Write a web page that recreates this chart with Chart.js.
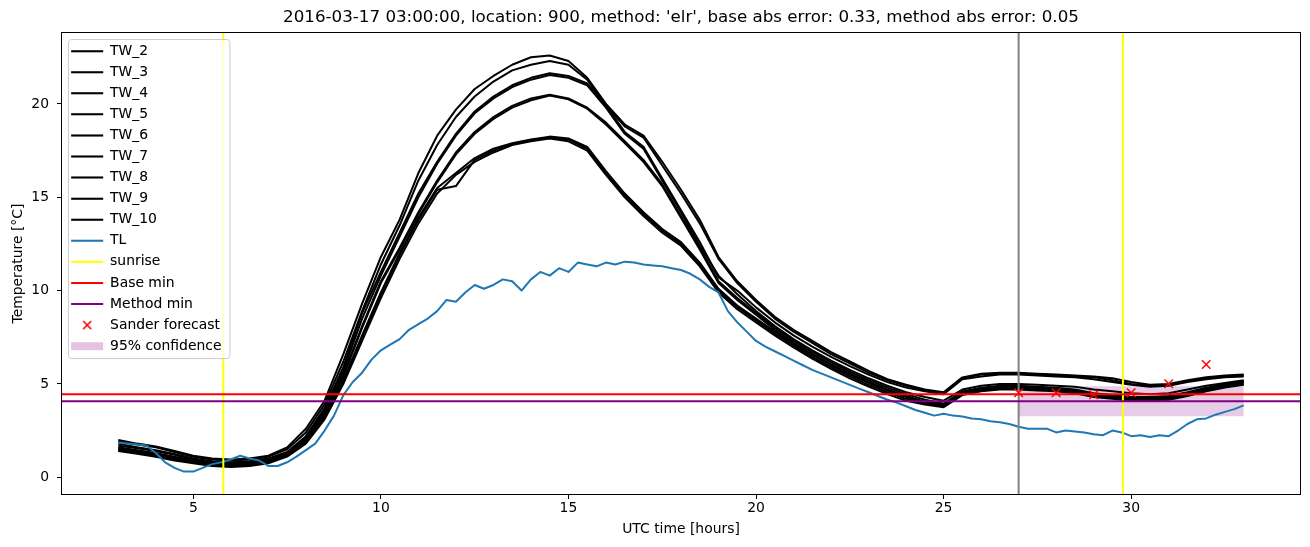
<!DOCTYPE html>
<html>
<head>
<meta charset="utf-8">
<script src="https://cdn.jsdelivr.net/npm/chart.js@4.4.1/dist/chart.umd.min.js"></script>
<style>
  body { margin: 0; background: #fff; }
  .c-chart { width: 1310px; height: 547px; }
</style>
</head>
<body>
<div class="c-chart"><canvas id="myChart"></canvas></div>
<script>
// half-hourly wall temperatures (TW_*), UTC hours from 03:00 to 33:00
const hours = [3.0, 3.5, 4.0, 4.5, 5.0, 5.5, 6.0, 6.5, 7.0, 7.5, 8.0, 8.5, 9.0, 9.5, 10.0, 10.5,
  11.0, 11.5, 12.0, 12.5, 13.0, 13.5, 14.0, 14.5, 15.0, 15.5, 16.0, 16.5, 17.0, 17.5, 18.0, 18.5,
  19.0, 19.5, 20.0, 20.5, 21.0, 21.5, 22.0, 22.5, 23.0, 23.5, 24.0, 24.5, 25.0, 25.5, 26.0, 26.5,
  27.0, 27.5, 28.0, 28.5, 29.0, 29.5, 30.0, 30.5, 31.0, 31.5, 32.0, 32.5, 33.0];

const tw2 = [2.0, 1.8, 1.65, 1.4, 1.15, 1.0, 0.95, 1.0, 1.15, 1.6, 2.6,
  4.1, 6.6, 9.3, 11.8, 13.8, 16.3, 18.3, 19.7, 20.8, 21.5,
  22.1, 22.5, 22.6, 22.3, 21.4, 20.0, 18.9, 18.3, 16.9, 15.4,
  13.8, 11.8, 10.5, 9.5, 8.6, 7.9, 7.3, 6.7, 6.2, 5.7,
  5.25, 4.95, 4.7, 4.55, 5.35, 5.55, 5.6, 5.6, 5.55, 5.5,
  5.45, 5.4, 5.3, 5.1, 4.95, 5.0, 5.2, 5.35, 5.45, 5.5];
const tw3 = [1.9, 1.75, 1.6, 1.35, 1.1, 0.95, 0.9, 0.95, 1.1, 1.5, 2.4,
  3.9, 6.2, 8.9, 11.4, 13.5, 15.9, 17.8, 19.3, 20.4, 21.2,
  21.8, 22.1, 22.3, 22.1, 21.3, 19.9, 18.8, 18.2, 16.7, 15.2,
  13.6, 11.7, 10.4, 9.4, 8.5, 7.8, 7.2, 6.6, 6.1, 5.6,
  5.2, 4.9, 4.65, 4.5, 5.3, 5.5, 5.55, 5.55, 5.5, 5.45,
  5.4, 5.35, 5.2, 5.0, 4.9, 4.95, 5.15, 5.3, 5.4, 5.45];
const tw4 = [1.8, 1.6, 1.45, 1.25, 1.0, 0.85, 0.8, 0.85, 1.0, 1.35, 2.2,
  3.7, 5.9, 8.8, 11.0, 13.1, 15.2, 16.9, 18.4, 19.6, 20.4,
  21.0, 21.4, 21.65, 21.5, 21.1, 19.9, 18.5, 17.7, 16.0, 14.3,
  12.6, 10.7, 10.0, 9.1, 8.3, 7.6, 7.0, 6.45, 5.95, 5.5,
  5.1, 4.8, 4.6, 4.45, 5.25, 5.4, 5.5, 5.5, 5.45, 5.4,
  5.35, 5.25, 5.1, 4.95, 4.85, 4.9, 5.1, 5.25, 5.35, 5.4];
const tw5 = [1.7, 1.55, 1.4, 1.2, 0.95, 0.8, 0.75, 0.8, 0.95, 1.3, 2.1,
  3.6, 5.7, 8.5, 10.8, 12.9, 15.0, 16.8, 18.3, 19.5, 20.3,
  20.9, 21.3, 21.55, 21.4, 21.0, 19.8, 18.4, 17.6, 15.9, 14.2,
  12.4, 10.8, 9.8, 8.9, 8.1, 7.4, 6.8, 6.25, 5.75, 5.3,
  4.9, 4.55, 4.3, 4.1, 4.7, 4.9, 5.0, 5.0, 4.95, 4.9,
  4.85, 4.7, 4.6, 4.5, 4.45, 4.5, 4.7, 4.9, 5.05, 5.2];
const tw6 = [1.6, 1.45, 1.3, 1.1, 0.9, 0.75, 0.7, 0.75, 0.9, 1.25, 2.0,
  3.5, 5.5, 8.1, 10.5, 12.3, 14.2, 15.9, 17.4, 18.5, 19.3,
  19.9, 20.3, 20.5, 20.3, 19.8, 19.0, 18.0, 17.0, 15.7, 14.0,
  12.3, 10.5, 9.6, 8.8, 8.0, 7.3, 6.7, 6.15, 5.65, 5.2,
  4.8, 4.45, 4.15, 3.95, 4.6, 4.8, 4.9, 4.9, 4.85, 4.8,
  4.7, 4.5, 4.4, 4.3, 4.3, 4.35, 4.55, 4.8, 5.0, 5.15];
const tw7 = [1.55, 1.4, 1.25, 1.05, 0.85, 0.7, 0.65, 0.7, 0.85, 1.2, 1.9,
  3.4, 5.4, 8.0, 10.4, 12.2, 14.1, 15.8, 17.3, 18.4, 19.2,
  19.8, 20.2, 20.45, 20.25, 19.75, 18.9, 17.9, 16.9, 15.6, 13.9,
  12.2, 10.4, 9.5, 8.7, 7.9, 7.2, 6.6, 6.05, 5.55, 5.1,
  4.7, 4.35, 4.05, 3.9, 4.55, 4.75, 4.85, 4.85, 4.8, 4.75,
  4.65, 4.45, 4.35, 4.25, 4.25, 4.3, 4.5, 4.75, 4.95, 5.1];
const tw8 = [1.5, 1.35, 1.2, 1.0, 0.85, 0.7, 0.65, 0.7, 0.85, 1.2, 1.9,
  3.3, 5.2, 7.6, 9.9, 12.0, 13.9, 15.5, 16.3, 17.1, 17.6,
  17.9, 18.1, 18.25, 18.15, 17.7, 16.4, 15.2, 14.2, 13.3, 12.6,
  11.5, 10.1, 9.2, 8.5, 7.8, 7.15, 6.55, 6.0, 5.5, 5.05,
  4.65, 4.3, 4.0, 3.85, 4.5, 4.7, 4.8, 4.8, 4.75, 4.7,
  4.6, 4.4, 4.3, 4.2, 4.2, 4.25, 4.45, 4.7, 4.9, 5.05];
const tw9 = [1.45, 1.3, 1.15, 0.95, 0.8, 0.65, 0.6, 0.65, 0.8, 1.15, 1.85,
  3.2, 5.1, 7.5, 9.8, 11.9, 13.8, 15.4, 15.6, 17.0, 17.5,
  17.85, 18.05, 18.2, 18.1, 17.6, 16.3, 15.1, 14.1, 13.2, 12.5,
  11.4, 10.0, 9.1, 8.4, 7.7, 7.05, 6.45, 5.9, 5.4, 4.95,
  4.55, 4.2, 3.95, 3.8, 4.45, 4.65, 4.75, 4.75, 4.7, 4.65,
  4.55, 4.35, 4.25, 4.15, 4.15, 4.2, 4.4, 4.65, 4.85, 5.0];
const tw10 = [1.4, 1.25, 1.1, 0.9, 0.75, 0.6, 0.55, 0.6, 0.75, 1.1, 1.8,
  3.1, 5.0, 7.3, 9.6, 11.7, 13.6, 15.2, 16.2, 16.9, 17.4,
  17.8, 18.0, 18.15, 18.0, 17.5, 16.2, 15.0, 14.0, 13.1, 12.4,
  11.3, 9.9, 9.0, 8.3, 7.6, 6.95, 6.35, 5.8, 5.3, 4.85,
  4.45, 4.1, 3.9, 3.75, 4.4, 4.6, 4.7, 4.7, 4.65, 4.6,
  4.5, 4.3, 4.2, 4.1, 4.1, 4.15, 4.35, 4.6, 4.8, 4.95];

// air temperature (TL), quarter-hourly
const tlHours = [3.0, 3.25, 3.5, 3.75, 4.0, 4.25, 4.5, 4.75, 5.0, 5.25, 5.5, 5.75, 6.0, 6.25, 6.5, 6.75,
  7.0, 7.25, 7.5, 7.75, 8.0, 8.25, 8.5, 8.75, 9.0, 9.25, 9.5, 9.75, 10.0, 10.25, 10.5, 10.75,
  11.0, 11.25, 11.5, 11.75, 12.0, 12.25, 12.5, 12.75, 13.0, 13.25, 13.5, 13.75, 14.0, 14.25, 14.5, 14.75,
  15.0, 15.25, 15.5, 15.75, 16.0, 16.25, 16.5, 16.75, 17.0, 17.25, 17.5, 17.75, 18.0, 18.25, 18.5, 18.75,
  19.0, 19.25, 19.5, 19.75, 20.0, 20.25, 20.5, 20.75, 21.0, 21.25, 21.5, 21.75, 22.0, 22.25, 22.5, 22.75,
  23.0, 23.25, 23.5, 23.75, 24.0, 24.25, 24.5, 24.75, 25.0, 25.25, 25.5, 25.75, 26.0, 26.25, 26.5, 26.75,
  27.0, 27.25, 27.5, 27.75, 28.0, 28.25, 28.5, 28.75, 29.0, 29.25, 29.5, 29.75, 30.0, 30.25, 30.5, 30.75,
  31.0, 31.25, 31.5, 31.75, 32.0, 32.25, 32.5, 32.75, 33.0];
const tl = [1.85, 1.8, 1.75, 1.7, 1.3, 0.8, 0.5, 0.3, 0.3, 0.5,
  0.7, 0.8, 0.95, 1.15, 1.0, 0.9, 0.6, 0.6, 0.8, 1.1,
  1.45, 1.8, 2.5, 3.3, 4.4, 5.1, 5.6, 6.3, 6.8, 7.1,
  7.4, 7.9, 8.2, 8.5, 8.9, 9.5, 9.4, 9.9, 10.3, 10.1,
  10.3, 10.6, 10.5, 10.0, 10.6, 11.0, 10.8, 11.2, 11.0, 11.5,
  11.4, 11.3, 11.5, 11.4, 11.55, 11.5, 11.4, 11.35, 11.3, 11.2,
  11.1, 10.9, 10.6, 10.2, 9.9, 8.9, 8.3, 7.8, 7.3, 7.0,
  6.75, 6.5, 6.25, 6.0, 5.75, 5.55, 5.35, 5.15, 4.95, 4.75,
  4.55, 4.35, 4.15, 4.0, 3.8, 3.6, 3.45, 3.3, 3.4, 3.3,
  3.25, 3.15, 3.1, 3.0, 2.95, 2.85, 2.7, 2.6, 2.6, 2.6,
  2.4, 2.5, 2.45, 2.4, 2.3, 2.25, 2.5, 2.4, 2.2, 2.25,
  2.15, 2.25, 2.2, 2.5, 2.85, 3.1, 3.15, 3.35, 3.5, 3.65,
  3.85];

const sunriseHours = [5.8, 29.78];
const forecastStart = 27.0;
const baseMin = 4.45;
const methodMin = 4.07;
const forecastHours = [27, 28, 29, 30, 31, 32];
const forecast = [4.53, 4.53, 4.42, 4.53, 5.01, 6.04];
const confHours = [27, 33];
const confLow = 3.26;
const confHigh = 4.88;

const xTicks = [5, 10, 15, 20, 25, 30];
const yTicks = [0, 5, 10, 15, 20];

var myChart = '';

const toPoints = function (xs, ys) {
  return xs.map((x, i) => ({ x: x, y: ys[i] }));
};

const vLines = function (xs) {
  const pts = [];
  for (const x of xs) {
    pts.push({ x: x, y: -100 }, { x: x, y: 100 }, { x: x, y: null });
  }
  return pts;
};

const lineSet = function (label, data, color) {
  return {
    label: label,
    data: data,
    showLine: true,
    borderColor: color,
    backgroundColor: color,
    borderWidth: 2,
    borderJoinStyle: 'round',
    pointRadius: 0,
    pointStyle: 'line',
  };
};

// small red x for the legend entry (pointStyleWidth would stretch crossRot)
const makeCross = function () {
  const c = document.createElement('canvas');
  c.width = 10;
  c.height = 10;
  const g = c.getContext('2d');
  g.strokeStyle = '#ff0000';
  g.lineWidth = 1.5;
  g.beginPath();
  g.moveTo(1, 1);
  g.lineTo(9, 9);
  g.moveTo(9, 1);
  g.lineTo(1, 9);
  g.stroke();
  return c;
};

// spines on all four sides + matplotlib-like legend frame, legend redrawn on top
const framePlugin = {
  id: 'frame',
  afterLayout: function (chart) {
    const lg = chart.legend;
    const area = chart.chartArea;
    lg.left = area.left + 2;
    lg.top = area.top + 4;
    lg.right = lg.left + lg.width;
    lg.bottom = lg.top + lg.height;
  },
  afterDatasetsDraw: function (chart) {
    const ctx = chart.ctx;
    const area = chart.chartArea;
    const lg = chart.legend;
    ctx.save();
    ctx.strokeStyle = '#000';
    ctx.lineWidth = 1;
    ctx.strokeRect(Math.round(area.left) - 0.5, Math.round(area.top) - 0.5,
      Math.round(area.right - area.left) + 1, Math.round(area.bottom - area.top) + 1);

    const n = lg.legendItems.length;
    ctx.beginPath();
    ctx.roundRect(lg.left + 4.5, lg.top + 2.5, lg.width - 6, n * 21.07 + 3, 3);
    ctx.fillStyle = 'rgba(255, 255, 255, 0.8)';
    ctx.fill();
    ctx.strokeStyle = '#cccccc';
    ctx.stroke();
    ctx.restore();
    lg.draw();
  },
};

const init = function () {
  Chart.defaults.font.family = "'DejaVu Sans', sans-serif";
  Chart.defaults.color = '#000';
  const crossIcon = makeCross();

  const tw = [
    ['TW_2', tw2], ['TW_3', tw3], ['TW_4', tw4], ['TW_5', tw5], ['TW_6', tw6],
    ['TW_7', tw7], ['TW_8', tw8], ['TW_9', tw9], ['TW_10', tw10],
  ];
  const datasets = [];
  for (const item of tw) {
    datasets.push(lineSet(item[0], toPoints(hours, item[1]), '#000000'));
  }
  datasets.push(lineSet('TL', toPoints(tlHours, tl), '#1f77b4'));
  datasets.push(lineSet('sunrise', vLines(sunriseHours), '#ffff00'));
  datasets.push(lineSet('', vLines([forecastStart]), '#808080'));
  datasets.push(lineSet('Base min', toPoints([-100, 100], [baseMin, baseMin]), '#ff0000'));
  datasets.push(lineSet('Method min', toPoints([-100, 100], [methodMin, methodMin]), '#800080'));
  datasets.push({
    label: 'Sander forecast',
    data: toPoints(forecastHours, forecast),
    showLine: false,
    pointStyle: 'crossRot',
    pointRadius: 6,
    borderColor: '#ff0000',
    backgroundColor: '#ff0000',
    borderWidth: 1.5,
  });
  datasets.push({
    label: '95% confidence',
    data: toPoints(confHours, [confHigh, confHigh]),
    showLine: true,
    borderWidth: 0,
    borderColor: 'rgba(0, 0, 0, 0)',
    backgroundColor: 'rgba(128, 0, 128, 0.2)',
    fill: { value: confLow },
    pointRadius: 0,
    pointStyle: 'rect',
  });
  // later datasets on top, like the plotting order
  datasets.forEach((ds, i) => { ds.order = datasets.length - i; });
  datasets[datasets.length - 1].order = datasets.length;

  const ctx = document.getElementById('myChart').getContext('2d');
  myChart = new Chart(ctx, {
    type: 'scatter',
    data: { datasets: datasets },
    options: {
      responsive: true,
      maintainAspectRatio: false,
      animation: false,
      layout: { padding: { left: 0, right: 10, top: 0, bottom: 0 } },
      scales: {
        x: {
          type: 'linear',
          min: 1.5,
          max: 34.5,
          afterBuildTicks: (axis) => { axis.ticks = xTicks.map((v) => ({ value: v })); },
          afterFit: (axis) => { axis.height = 53; },
          grid: { drawOnChartArea: false, drawTicks: true, tickLength: 5, tickColor: '#000', tickWidth: 1 },
          border: { display: false },
          ticks: { color: '#000', font: { size: 13.9 }, padding: 1, maxRotation: 0 },
          title: { display: true, text: 'UTC time [hours]', color: '#000', font: { size: 13.9 }, padding: { top: 4, bottom: 9 } },
        },
        y: {
          type: 'linear',
          min: -0.9,
          max: 23.8,
          afterBuildTicks: (axis) => { axis.ticks = yTicks.map((v) => ({ value: v })); },
          afterFit: (axis) => { axis.width = 62; },
          grid: { drawOnChartArea: false, drawTicks: true, tickLength: 5, tickColor: '#000', tickWidth: 1 },
          border: { display: false },
          ticks: { color: '#000', font: { size: 13.9 }, padding: 8 },
          title: { display: true, text: 'Temperature [°C]', color: '#000', font: { size: 13.9 }, padding: { top: 10, bottom: 4 } },
        },
      },
      plugins: {
        title: {
          display: true,
          fullSize: false,
          text: "2016-03-17 03:00:00, location: 900, method: 'elr', base abs error: 0.33, method abs error: 0.05",
          color: '#000',
          font: { size: 16.7, weight: 'normal' },
          padding: { top: 8, bottom: 5 },
        },
        legend: {
          position: 'chartArea',
          align: 'start',
          labels: {
            usePointStyle: true,
            pointStyleWidth: 32,
            boxHeight: 8,
            padding: 7.17,
            color: '#000',
            font: { size: 13.9 },
            generateLabels: (chart) => {
              const items = Chart.defaults.plugins.legend.labels.generateLabels(chart);
              for (const item of items) {
                if (item.text === 'Sander forecast') item.pointStyle = crossIcon;
              }
              return items;
            },
            filter: (item) => item.text !== '',
            sort: (a, b) => a.datasetIndex - b.datasetIndex,
          },
        },
        tooltip: { enabled: false },
      },
    },
    plugins: [framePlugin],
  });
};

document.addEventListener('DOMContentLoaded', init);
</script>
</body>
</html>
